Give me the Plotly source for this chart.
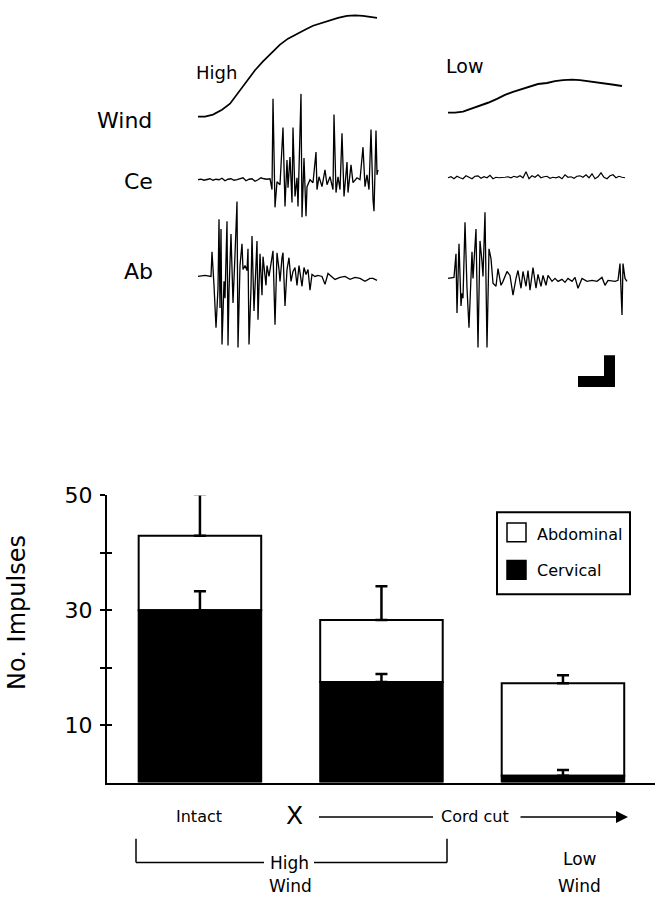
import plotly.graph_objects as go

W, H = 662, 900
FONT = "DejaVu Sans"

# ---------------- bar chart data ----------------
conditions = ["Intact", "Cord cut high", "Cord cut low"]
cervical = [30.0, 17.5, 1.2]
abdominal = [13.0, 10.8, 16.1]
cervical_err = [3.3, 1.4, 1.0]
total_err = [7.2, 5.9, 1.4]
y_tickvals = [10, 20, 30, 40, 50]
y_ticktext = ["10", "", "30", "", "50"]

# ---------------- recorded traces (time, amplitude) ----------------
wind_high_t = [0, 7, 15, 24, 32, 40, 49, 57, 65, 74, 82, 90, 99, 107, 115, 124, 132, 140, 149, 157, 165, 172, 179]
wind_high_a = [0, 0, 2, 7, 13, 24, 36, 47, 56, 65, 73, 79, 84, 88, 92, 95, 98, 100, 102, 102.5, 102, 101, 100]

wind_low_t = [0, 7, 15, 24, 32, 40, 49, 57, 65, 74, 82, 90, 99, 107, 115, 124, 132, 140, 149, 157, 164, 174]
wind_low_a = [0, 0, 1, 4, 7, 10, 14, 18, 21, 24, 27, 29, 30, 32, 33, 33.5, 33, 32, 31, 30, 28.5, 27]

ce_high_t = [0, 3, 6, 9, 12, 15, 18, 21, 24, 27, 30, 33, 36, 39, 42, 45, 48, 51, 54, 57, 60, 63, 66, 69, 72,
             74, 75, 76, 77, 79, 82, 85, 86, 87, 89, 90, 92, 94, 95, 97, 99, 100, 103, 104, 106, 108, 109,
             112, 115, 118, 119, 121, 124, 127, 129, 132, 135, 136, 138, 140, 142, 144, 146, 149, 150, 153,
             155, 159, 162, 165, 167, 169, 171, 173, 175, 176, 178, 179, 180]
ce_high_a = [0, 0.5, -0.5, 0, 1, -0.5, 0.5, 0, 1.5, -1, 0.5, 1, -0.5, 0, 1, 2, -1, 0.5, 1, -1.5, 0, 2, 1, 0.5, 1,
             -10, 82, -3, -28, -2, -5, 53, -7, -27, 20, -8, 23, -23, 53, -17, 2, -27, 87, -38, 22, -37, -7,
             0, -3, 28, -10, 3, -7, 10, -5, 3, -10, 66, -13, 3, -10, 47, -17, 18, -13, 15,
             -3, 2, 0, 33, -7, 5, -10, 51, -20, -32, 50, 5, 10]

ce_low_t = [0, 3, 6, 9, 12, 15, 18, 21, 24, 27, 30, 33, 36, 39, 42, 45, 48, 51, 54, 57,
            60, 63, 66, 69, 72, 75, 78, 81, 84, 87, 90, 93, 96, 99, 102, 105, 108, 111, 114, 117,
            120, 123, 126, 129, 132, 135, 138, 141, 144, 147, 150, 153, 156, 159, 162, 165, 168, 171, 174, 177]
ce_low_a = [0, 1, -1, 1.5, 0, -1, 2, 0.5, -1, 1.5, 2, -0.5, 1, 0, 2.5, -1, 0.5, 0, 0, 0.5,
            1, 0, 1.5, 0.5, 2, 0, 6, -1, 2, 0.5, 3, 0, 1, 1.5, -0.5, 0.5, 0, 1, -1, 3,
            0.5, 1, -0.5, 1.5, 2, 0.5, 3, 0, 4, -1, 1, 5, 0.5, -1, 2, 3, 0, 1.5, 0.5, 0]

ab_high_t = [0, 7, 13, 14, 16, 18, 20, 21, 22, 23, 24, 26, 27, 29, 30, 31, 33, 35, 37, 39, 40, 42, 44, 45,
             47, 49, 50, 51, 53, 54, 56, 59, 60, 62, 64, 65, 68, 69, 71, 73, 75, 77, 79, 81, 82, 84, 85,
             87, 89, 91, 93, 95, 97, 99, 101, 104, 106, 108, 110, 112, 114, 117, 120, 124, 127, 130, 134,
             137, 142, 147, 152, 157, 162, 167, 172, 175, 179]
ab_high_a = [0, 1, 0, 25, -9, -52, -12, 58, -32, 48, -69, -5, -22, 56, -70, -15, 43, -27, 22, 76, -72, 11, 33, 7,
             11, 6, 28, -69, -12, 41, -35, 36, -44, 23, -19, 20, -9, 11, 0, 11, 26, -49, 24, 7, -5, 19, 24,
             -30, 7, 19, -5, 5, 9, -9, 11, -10, 9, 2, 7, -14, 2, 0, 1, 0, -8, 3, 0,
             -3, -1, 0, -3, -1, -2, -5, -2, -2, -4]

ab_low_t = [0, 6, 8, 9, 11, 13, 14, 15, 17, 19, 21, 24, 25, 28, 30, 32, 34, 35, 37, 39, 41, 43, 45, 48,
            50, 53, 55, 59, 62, 65, 68, 70, 73, 75, 78, 80, 82, 85, 88, 90, 93, 95, 98, 100, 104, 107,
            110, 114, 117, 120, 124, 127, 130, 134, 139, 144, 149, 154, 157, 160, 167, 170, 172, 174, 175,
            177, 179]
ab_low_a = [0, 1, 25, -35, 35, -28, -15, -20, 57, -10, -50, 27, 0, 50, -70, 38, 17, 2, 67, -70, 30, 20, -5, -8,
            10, -7, -3, 7, 3, -17, 0, 8, -10, 7, -8, 8, -12, 11, -10, 4, -8, 3, -7, 3, -3, 0,
            -3, -1, -4, 0, -3, 1, -10, 0, -3, -2, -3, 1, -7, -2, -3, -2, 15, -37, 15,
            0, -3]

scale_bar_time = 37
scale_bar_amp = 32

# ---------------- layout helpers ----------------
def PX(x):
    return x / W


def PY(y):
    return 1 - y / H


TOP_PX = 405  # top panel height in px (1 unit = 1 px)
col_x0 = {"High": 198, "Low": 448}
row_base = {("Wind", "High"): 106, ("Wind", "Low"): 102,
            ("Ce", "High"): 170, ("Ce", "Low"): 168,
            ("Ab", "High"): 268, ("Ab", "Low"): 270}

fig = go.Figure()

# ---- bars (abdominal drawn first so cervical error bars stay visible) ----
fig.add_trace(go.Bar(
    x=conditions, y=abdominal, base=cervical, width=0.675,
    marker=dict(color="white", line=dict(color="black", width=2)),
    error_y=dict(type="data", symmetric=False, array=total_err, arrayminus=[0, 0, 0],
                 color="black", thickness=2.5, width=6),
    showlegend=False, xaxis="x", yaxis="y"))
fig.add_trace(go.Bar(
    x=conditions, y=cervical, width=0.675,
    marker=dict(color="black", line=dict(color="black", width=2)),
    error_y=dict(type="data", symmetric=False, array=cervical_err, arrayminus=[0, 0, 0],
                 color="black", thickness=2.5, width=6),
    showlegend=False, xaxis="x", yaxis="y"))

# ---- recorded traces ----
def add_rec(t, a, row, col, width):
    x0 = col_x0[col]
    b = row_base[(row, col)]
    fig.add_trace(go.Scatter(
        x=[x0 + v for v in t], y=[-b + v for v in a], mode="lines",
        line=dict(color="black", width=width), showlegend=False, hoverinfo="skip",
        xaxis="x2", yaxis="y2"))


add_rec(wind_high_t, wind_high_a, "Wind", "High", 1.7)
add_rec(wind_low_t, wind_low_a, "Wind", "Low", 1.9)
add_rec(ce_high_t, ce_high_a, "Ce", "High", 1.3)
add_rec(ce_low_t, ce_low_a, "Ce", "Low", 1.2)
add_rec(ab_high_t, ab_high_a, "Ab", "High", 1.3)
add_rec(ab_low_t, ab_low_a, "Ab", "Low", 1.3)

# ---- axes ----
bar_bottom, bar_top = 781, 490
fig.update_layout(
    width=W, height=H, margin=dict(l=0, r=0, t=0, b=0),
    paper_bgcolor="white", plot_bgcolor="white",
    barmode="overlay", font=dict(family=FONT, color="black"),
    xaxis=dict(domain=[PX(107), PX(655)], range=[-0.512, 2.507], type="category",
               showline=True, linecolor="black", linewidth=2, showticklabels=False,
               ticks="", showgrid=False, zeroline=False, anchor="y", fixedrange=True),
    yaxis=dict(domain=[PY(bar_bottom), PY(bar_top)], range=[0, 50], showline=True,
               linecolor="black", linewidth=2, ticks="outside", ticklen=5, tickwidth=2,
               tickcolor="black", tickvals=y_tickvals, ticktext=y_ticktext,
               tickfont=dict(size=22, family=FONT), showgrid=False, zeroline=False,
               anchor="x", ticklabelstandoff=3),
    yaxis3=dict(domain=[PY(bar_bottom), PY(bar_top)], range=[0, 50], overlaying="y",
                ticks="inside", ticklen=5, tickwidth=2, tickcolor="black",
                tickvals=y_tickvals, showticklabels=False, showline=False,
                showgrid=False, zeroline=False, anchor="x"),
    xaxis2=dict(domain=[0, 1], range=[0, W], visible=False, anchor="y2"),
    yaxis2=dict(domain=[1 - TOP_PX / H, 1], range=[-TOP_PX, 0], visible=False, anchor="x2"),
)
# dummy trace so yaxis3 ticks render
fig.add_trace(go.Scatter(x=[conditions[0]], y=[None], xaxis="x", yaxis="y3",
                         showlegend=False, hoverinfo="skip"))

shapes = []
annotations = []


def text(s, x, y, size, xanchor="center", angle=0):
    annotations.append(dict(text=s, x=PX(x), y=PY(y), xref="paper", yref="paper",
                            showarrow=False, xanchor=xanchor, yanchor="middle",
                            font=dict(size=size, family=FONT, color="black"),
                            textangle=angle))


def line(x0, y0, x1, y1, w=1.5):
    shapes.append(dict(type="line", xref="paper", yref="paper", x0=PX(x0), y0=PY(y0),
                       x1=PX(x1), y1=PY(y1), line=dict(color="black", width=w)))


def rect(x0, y0, x1, y1, fill, w=1.5):
    shapes.append(dict(type="rect", xref="paper", yref="paper", x0=PX(x0), y0=PY(y0),
                       x1=PX(x1), y1=PY(y1), fillcolor=fill, line=dict(color="black", width=w)))


# top-panel labels
text("High", 216, 61, 18)
text("Low", 464, 55, 19)
text("Wind", 124, 110, 22)
text("Ce", 138, 172, 22)
text("Ab", 138, 263, 22)

# scale bar (in trace units)
sb_right, sb_bottom = 615, 380
shapes.append(dict(type="rect", xref="x2", yref="y2", x0=sb_right - scale_bar_time, x1=sb_right,
                   y0=-sb_bottom, y1=-sb_bottom + 11, fillcolor="black", line=dict(width=0)))
shapes.append(dict(type="rect", xref="x2", yref="y2", x0=sb_right - 11, x1=sb_right,
                   y0=-sb_bottom, y1=-sb_bottom + scale_bar_amp, fillcolor="black", line=dict(width=0)))

# y axis title
text("No. Impulses", 17, 609, 24, angle=-90)

# legend
rect(497, 507, 630, 590, "white", 2)
rect(507, 518, 526, 537, "white", 1.5)
rect(507, 556, 526, 575, "black", 1.5)
text("Abdominal", 535, 530, 16, xanchor="left")
text("Cervical", 535, 566, 16, xanchor="left")

# bottom labels
text("Intact", 199, 815, 16)
text("X", 294, 814, 25)
line(319, 816, 433, 816, 1.5)
text("Cord cut", 475, 815, 16)
annotations.append(dict(x=PX(628), y=PY(816), ax=-(628 - 519), ay=0, xref="paper", yref="paper",
                        axref="pixel", ayref="pixel", showarrow=True, arrowhead=2,
                        arrowsize=1.6, arrowwidth=1.5, arrowcolor="black", text=""))
# bracket
line(136, 838, 136, 862)
line(136, 862, 264, 862)
line(314, 862, 447, 862)
line(447, 838, 447, 862)
text("High", 289, 862, 17)
text("Wind", 290, 886, 17)
text("Low", 580, 858, 17)
text("Wind", 579, 886, 17)

fig.update_layout(shapes=shapes, annotations=annotations)
fig.write_html("out.html", config={"displayModeBar": False},
               post_script="document.body.style.margin='0px';document.body.style.overflow='hidden';")
